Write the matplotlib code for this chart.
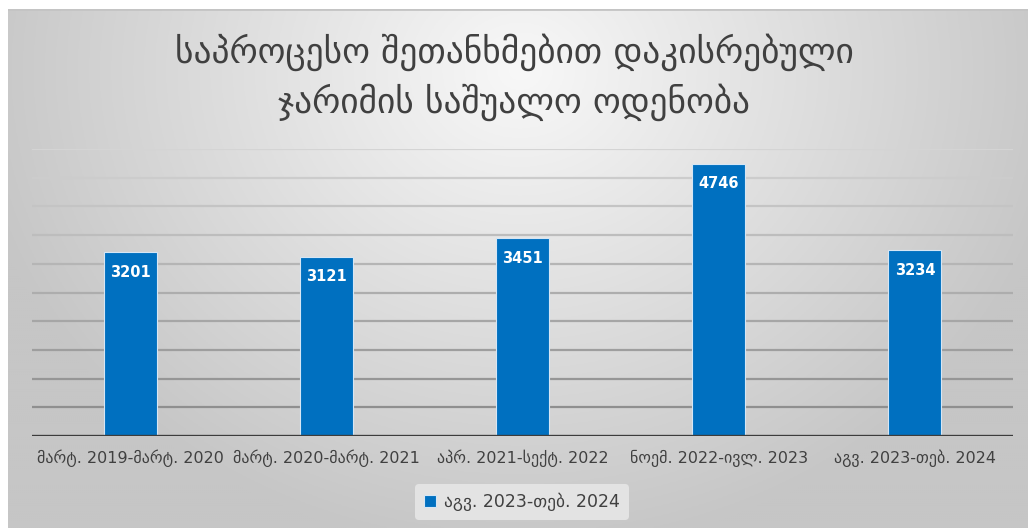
import numpy as np
import matplotlib
matplotlib.use("Agg")
import matplotlib.pyplot as plt

# Data
title_text = "საპროცესო შეთანხმებით დაკისრებული\nჯარიმის საშუალო ოდენობა"
periods = [
    "მარტ. 2019-მარტ. 2020",
    "მარტ. 2020-მარტ. 2021",
    "აპრ. 2021-სექტ. 2022",
    "ნოემ. 2022-ივლ. 2023",
    "აგვ. 2023-თებ. 2024",
]
avg_fine = [3201, 3121, 3451, 4746, 3234]
series_name = "აგვ. 2023-თებ. 2024"
y_ticks = list(range(0, 5001, 500))

plt.rcParams["font.family"] = ["DejaVu Sans"]

W, H = 1028, 528
fig = plt.figure(figsize=(W / 100, H / 100), dpi=100)
fig.patch.set_facecolor("white")

# Chart area with a soft radial grey gradient
bg_ax = fig.add_axes([8 / W, 0, 1 - 8 / W, 1 - 9 / H])
bg_ax.set_axis_off()
nx, ny = 510, 260
xs = np.linspace(8, W, nx)
ys = np.linspace(9, H, ny)
X, Y = np.meshgrid(xs, ys)
r = np.sqrt(((X - 520) / 620) ** 2 + ((Y - 70) / 540) ** 2)
val = np.clip(248 - 56 * r, 198, 248) / 255.0
img = np.dstack([val, val, val])
bg_ax.imshow(img, aspect="auto", extent=[0, 1, 0, 1], origin="upper")
bg_ax.set_xlim(0, 1)
bg_ax.set_ylim(0, 1)
bg_ax.axhline(1, color="#c4c4c4", lw=2.0)

# Plot area
ax = fig.add_axes([32 / W, 1 - 436 / H, (1013 - 32) / W, (436 - 149) / H])
ax.patch.set_alpha(0)
ax.set_xlim(-0.5, len(periods) - 0.5)
ax.set_ylim(0, 5000)

# Gridlines, lighter toward the top
grid_vals = y_ticks[1:]
for i, gv in enumerate(grid_vals):
    t = i / (len(grid_vals) - 1)
    c = (0.56 + 0.27 * t,) * 3
    ax.axhline(gv, color=c, lw=1.6, zorder=1)
ax.axhline(0, color="#3c3c3c", lw=2.4, zorder=3)

x = np.arange(len(periods))
bars = ax.bar(x, avg_fine, width=0.27, color="#0070C0",
              edgecolor="#d6e6f5", linewidth=0.8, zorder=2,
              label=series_name)

for xi, v in zip(x, avg_fine):
    ax.annotate(f"{v}", (xi, v), xytext=(0, -14.5), textcoords="offset points",
                ha="center", va="center", color="white",
                fontsize=10.5, fontweight="bold", zorder=4)

ax.set_yticks([])
ax.set_xticks(x)
ax.set_xticklabels(periods, fontsize=11.5, color="#404040")
ax.tick_params(axis="x", length=0, pad=10)
for s in ax.spines.values():
    s.set_visible(False)

# Title
fig.text(514 / W, 1 - 77 / H, title_text, ha="center", va="center",
         fontsize=25.5, color="#404040", linespacing=1.4)

# Legend
leg = fig.legend(handles=[bars], labels=[series_name], loc="center",
                 bbox_to_anchor=(522 / W, 1 - 502 / H), frameon=True,
                 fontsize=12.5, handlelength=0.7, handleheight=0.7,
                 handletextpad=0.45, borderpad=0.5, labelcolor="#404040")
leg.get_frame().set_facecolor("#e3e3e3")
leg.get_frame().set_edgecolor("none")
leg.get_frame().set_alpha(1)

fig.savefig("out.png", dpi=100, facecolor=fig.get_facecolor())
